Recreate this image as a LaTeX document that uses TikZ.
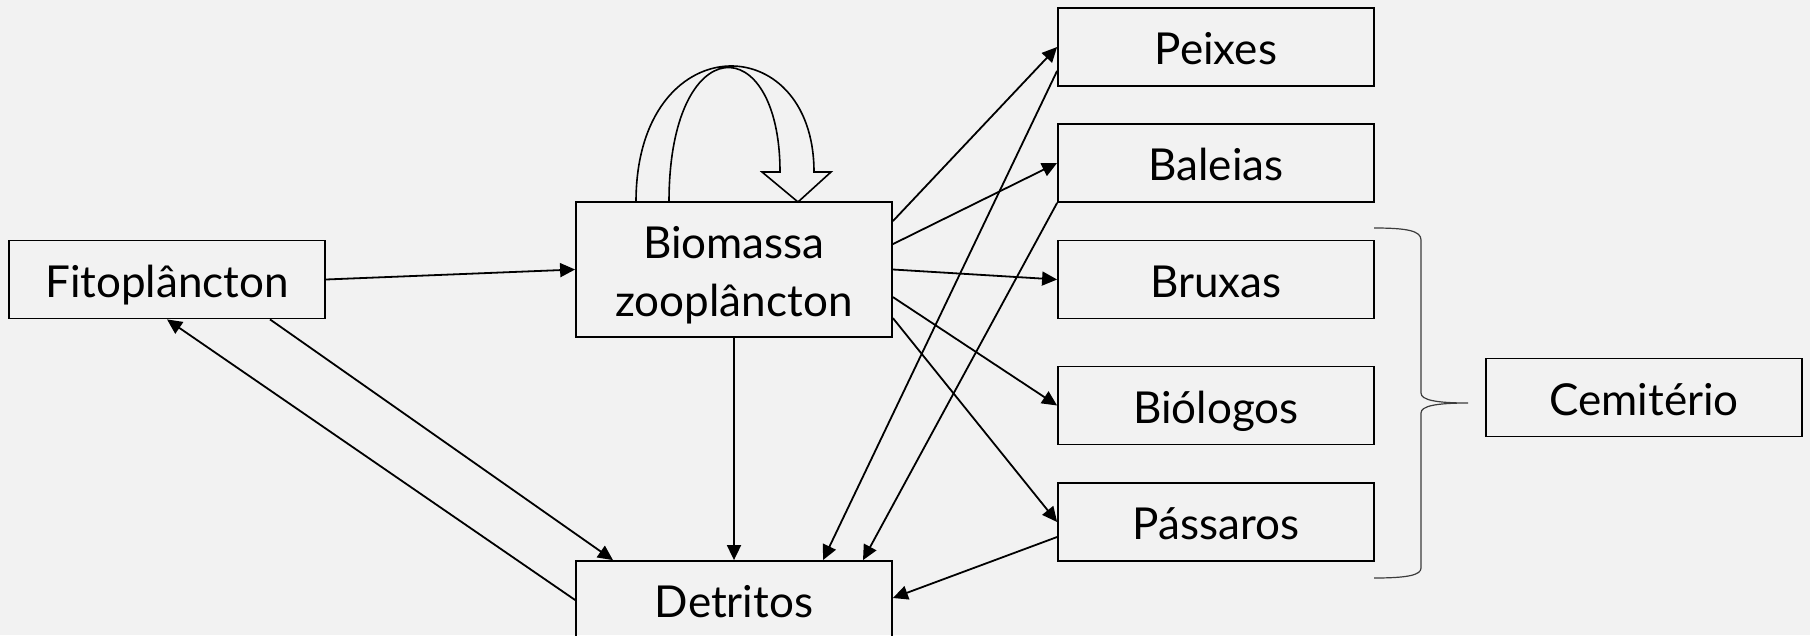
\documentclass[tikz,border=0pt]{standalone}
\usepackage{fontspec}
\setmainfont{Lato}
\usetikzlibrary{arrows.meta}
\definecolor{bg}{RGB}{242,242,242}
\definecolor{bracegray}{RGB}{60,60,60}
\tikzset{
  box/.style={draw, line width=1.8pt, minimum width=316pt, minimum height=78pt,
    inner sep=0pt, align=center, text height=35pt, text depth=0pt,
    font=\fontsize{44}{58}\selectfont},
  flow/.style={-{Triangle[length=15pt,width=14pt]}, line width=1.8pt},
}
\begin{document}
\begin{tikzpicture}[x=1pt,y=-1pt]
  \fill[bg] (0,0) rectangle (1810,635);
  \useasboundingbox (0,0) rectangle (1810,635);
  % boxes
  \node[box] (fito) at (167,279.5) {Fitoplâncton};
  \node[box, minimum height=135pt, text height=93pt] (bio) at (734,269.5) {Biomassa\\zooplâncton};
  \node[box] (det) at (734,600) {Detritos};
  \node[box] (peixes) at (1216,47) {Peixes};
  \node[box] (baleias) at (1216,163) {Baleias};
  \node[box] (bruxas) at (1216,279.5) {Bruxas};
  \node[box] (biologos) at (1216,405.5) {Biólogos};
  \node[box] (passaros) at (1216,522) {Pássaros};
  \node[box] (cemit) at (1644,397.5) {Cemitério};
  % self loop of the zooplankton
  \draw[line width=1.6pt, line join=miter]
    (636,202) .. controls (636,26) and (814,26) .. (814,172)
    -- (831,172) -- (798,202) -- (762,172) -- (780,172)
    .. controls (780,28) and (669,28) .. (669,202);
  % flows
  \draw[flow] (fito.east) -- (bio.west);
  \draw[flow] ([xshift=103pt]fito.south) -- ([xshift=-121pt]det.north);
  \draw[flow] (det.west) -- (fito.south);
  \draw[flow] (bio.south) -- (det.north);
  \draw[flow] ([yshift=-20pt]bio.north east) -- (peixes.west);
  \draw[flow] ([yshift=-43pt]bio.north east) -- (baleias.west);
  \draw[flow] (bio.east) -- (bruxas.west);
  \draw[flow] ([yshift=-96pt]bio.north east) -- (biologos.west);
  \draw[flow] ([yshift=-117pt]bio.north east) -- (passaros.west);
  \draw[flow] ([yshift=16pt]peixes.south west) -- ([xshift=89pt]det.north);
  \draw[flow] (baleias.south west) -- ([xshift=129pt]det.north);
  \draw[flow] ([yshift=-15pt]passaros.west) -- ([yshift=2pt]det.east);
  % brace
  \draw[bracegray, line width=1.2pt]
    (1374,228) .. controls (1408,228) and (1421,231) .. (1421,240)
    -- (1421,393) .. controls (1421,400) and (1436,403) .. (1468,403)
    .. controls (1436,403) and (1421,406) .. (1421,413)
    -- (1421,568) .. controls (1421,575) and (1408,578) .. (1374,578);
\end{tikzpicture}
\end{document}
